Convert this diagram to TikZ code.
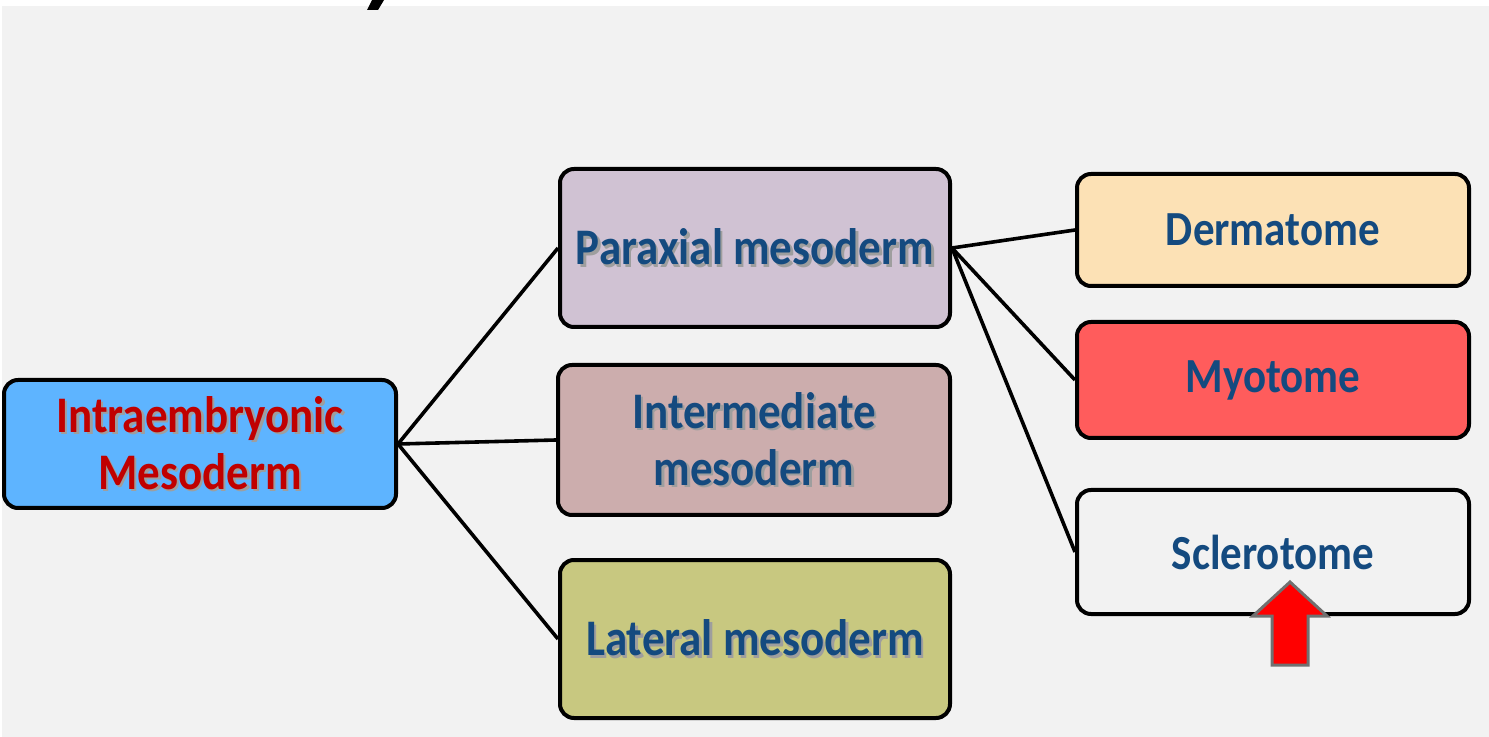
\documentclass[tikz,border=0pt]{standalone}
\usepackage{fontspec}
\setmainfont{Carlito}
\usetikzlibrary{calc}
\definecolor{bggray}{HTML}{F2F2F2}
\definecolor{intrablue}{HTML}{5EB4FF}
\definecolor{intrared}{HTML}{C00000}
\definecolor{paraxfill}{HTML}{D0C2D3}
\definecolor{interfill}{HTML}{CCADAD}
\definecolor{latfill}{HTML}{C8C880}
\definecolor{dermfill}{HTML}{FCE1B5}
\definecolor{myofill}{HTML}{FF5C5C}
\definecolor{txtblue}{HTML}{144A7F}
\definecolor{arrowgray}{HTML}{707070}
\newcommand{\tall}[1]{\scalebox{1}[1.14]{#1}}
\newcommand{\shd}[1]{\leavevmode\rlap{\raisebox{-1.3pt}{\hspace{1.3pt}\textcolor{black!38}{\tall{#1}}}}\tall{#1}}
\tikzset{
  box/.style={draw=black, line width=2pt, rounded corners=7pt, align=center,
    inner sep=0pt, text=txtblue, font=\bfseries\fontsize{22.5}{28.5}\selectfont},
  plainbox/.style={box, font=\bfseries\fontsize{21.5}{28}\selectfont},
  link/.style={black, line width=1.8pt},
}

\begin{document}
\begin{tikzpicture}[x=0.5pt, y=-0.5pt]
\fill[white] (0,0) rectangle (1489,737);
\fill[bggray] (2,6) rectangle (1489,737);
\useasboundingbox (0,0) rectangle (1489,737);
\fill (372,0) -- (384,0) -- (378,10) -- (367,10) -- cycle;

% left column
\node[box, fill=intrablue, text=intrared, minimum width=196pt, minimum height=64pt] (intra) at (200,444) {\shd{Intraembryonic}\\\shd{Mesoderm}};

% middle column
\node[box, fill=paraxfill, minimum width=195pt, minimum height=79pt] (parax) at (755,248) {\shd{Paraxial mesoderm}};
\node[box, fill=interfill, minimum width=196pt, minimum height=75pt] (inter) at (754,440) {\shd{Intermediate}\\\shd{mesoderm}};
\node[box, fill=latfill, minimum width=195pt, minimum height=79pt] (later) at (755,639) {\shd{Lateral mesoderm}};

% right column
\node[plainbox, fill=dermfill, minimum width=196pt, minimum height=56pt] (derm) at (1273,230) {\tall{Dermatome}};
\node[plainbox, fill=myofill, minimum width=196pt, minimum height=58pt] (myo) at (1273,380) {\tall{Myotome}};
\node[plainbox, fill=bggray, minimum width=196pt, minimum height=62pt] (scler) at (1273,552) {\tall{Sclerotome}};

\draw[link] (intra.east) -- (parax.west);
\draw[link] (intra.east) -- (inter.west);
\draw[link] (intra.east) -- (later.west);
\draw[link] (parax.east) -- (derm.west);
\draw[link] (parax.east) -- (myo.west);
\draw[link] (parax.east) -- (scler.west);

% pointer arrow
\filldraw[fill=red, draw=arrowgray, line width=1.5pt] (1290,582) -- (1327,616) -- (1308,616) -- (1308,665) -- (1272,665) -- (1272,616) -- (1253,616) -- cycle;
\end{tikzpicture}
\end{document}
